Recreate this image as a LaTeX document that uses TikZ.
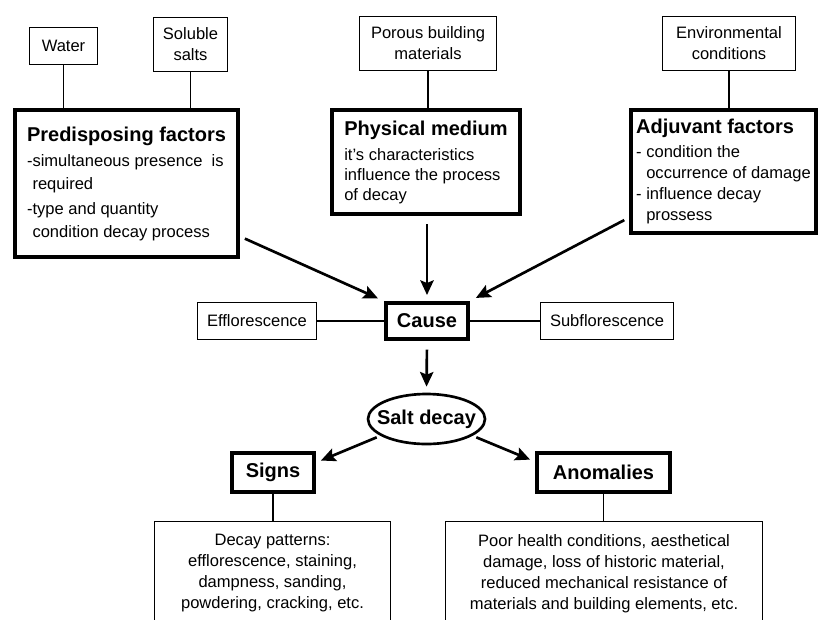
\documentclass[tikz,border=0pt]{standalone}
\usepackage{fontspec}
\setmainfont{Liberation Sans}
\usetikzlibrary{arrows.meta,shapes.geometric}

\newcommand{\boxtitle}[1]{{\fontsize{15}{18}\selectfont\bfseries #1}}

\begin{document}
\begin{tikzpicture}[x=0.75pt,y=-0.75pt,
                    font=\fontsize{12.4}{15.75}\selectfont,
                    small node/.style={rectangle,draw,line width=1pt,inner sep=1pt,align=center},
                    main node/.style={rectangle,draw,line width=3pt,inner sep=3pt,align=left},
                    head node/.style={rectangle,draw,line width=3pt,inner sep=2pt,
                                      font=\fontsize{15}{18}\selectfont\bfseries},
                    link/.style={line width=1pt},
                    cause arrow/.style={line width=2pt,-{Stealth[length=11pt,width=10pt,inset=2pt]}}]

  \useasboundingbox (0,0) rectangle (820,619);

  % what is needed
  \node[small node,minimum width=51pt,minimum height=27.75pt] (water) at (63.5,46) {Water};
  \node[small node,minimum width=55.5pt,minimum height=40.5pt] (salts) at (190.5,44.5) {Soluble\\ salts};
  \node[small node,minimum width=102.75pt,minimum height=40.5pt] (porous) at (428,43.5) {Porous building\\ materials};
  \node[small node,minimum width=99.75pt,minimum height=40.5pt] (env) at (729,43.5) {Environmental\\ conditions};

  % the three factors
  \node[main node,minimum width=167.25pt,minimum height=110.25pt,
        font=\fontsize{12.4}{17}\selectfont] (pred) at (126.5,183.5)
    {\boxtitle{Predisposing factors}\\[2pt]
     -simultaneous presence\ \ is\\
     \hphantom{-}required\\[2pt]
     -type and quantity\\
     \hphantom{-}condition decay process};
  \node[main node,minimum width=141pt,minimum height=78pt,
        font=\fontsize{12.4}{15}\selectfont] (phys) at (426,162)
    {\boxtitle{Physical medium}\\[3.75pt]
     it's characteristics\\
     influence the process\\
     of decay};
  \node[main node,minimum width=138.75pt,minimum height=92.25pt] (adj) at (723.5,171.5)
    {\boxtitle{Adjuvant factors}\\[2.25pt]
     - condition the\\
     \hphantom{- }occurrence of damage\\
     - influence decay\\
     \hphantom{- }prossess};

  % cause and its forms
  \node[head node,minimum width=61.5pt,minimum height=27pt] (cause) at (427,321) {Cause};
  \node[small node,minimum width=89.25pt,minimum height=27.75pt] (efflo) at (257,321) {Efflorescence};
  \node[small node,minimum width=99.75pt,minimum height=27.75pt] (subflo) at (607,321) {Subflorescence};

  \node[ellipse,draw,line width=2pt,inner sep=0pt,minimum width=87.75pt,minimum height=37.5pt,
        font=\fontsize{15}{18}\selectfont\bfseries] (salt) at (426.5,419) {\makebox[58pt]{Salt decay}};

  \node[head node,minimum width=61.5pt,minimum height=29.25pt] (signs) at (273,472.5) {Signs};
  \node[head node,minimum width=99.75pt,minimum height=29.25pt] (anom) at (603.5,472.5) {Anomalies};

  \node[small node,anchor=north,minimum width=177pt,inner ysep=10pt] (decay) at (272.5,520.5)
    {Decay patterns:\\ efflorescence, staining,\\ dampness, sanding,\\ powdering, cracking, etc.\\[14pt]};
  \node[small node,anchor=north,minimum width=237.75pt,inner ysep=10pt] (poor) at (604,520.5)
    {Poor health conditions, aesthetical\\ damage, loss of historic material,\\
     reduced mechanical resistance of\\ materials and building elements, etc.\\[14pt]};

  % plain links
  \path[link]
    (water.south) edge (water.south |- pred.north)
    (salts.south) edge (salts.south |- pred.north)
    (porous.south) edge (porous.south |- phys.north)
    (env.south) edge (env.south |- adj.north)
    (efflo) edge (cause)
    (cause) edge (subflo)
    (signs.south) edge (signs.south |- decay.north)
    (anom.south) edge (anom.south |- poor.north);

  % arrows
  \path[cause arrow]
    (pred.-25) edge[shorten <=4pt,shorten >=5pt] (cause.north west)
    (phys.south -| cause.north) edge[shorten <=6pt,shorten >=4.5pt] (cause.north)
    (adj.206) edge[shorten <=4pt,shorten >=5pt] (cause.north east)
    (cause.south) edge[shorten <=6.5pt,shorten >=4.5pt] (salt.north)
    (salt.200) edge[shorten <=3pt,shorten >=4pt] (signs.13)
    (salt.-20) edge[shorten <=3pt,shorten >=4pt] (anom.171);
\end{tikzpicture}
\end{document}
